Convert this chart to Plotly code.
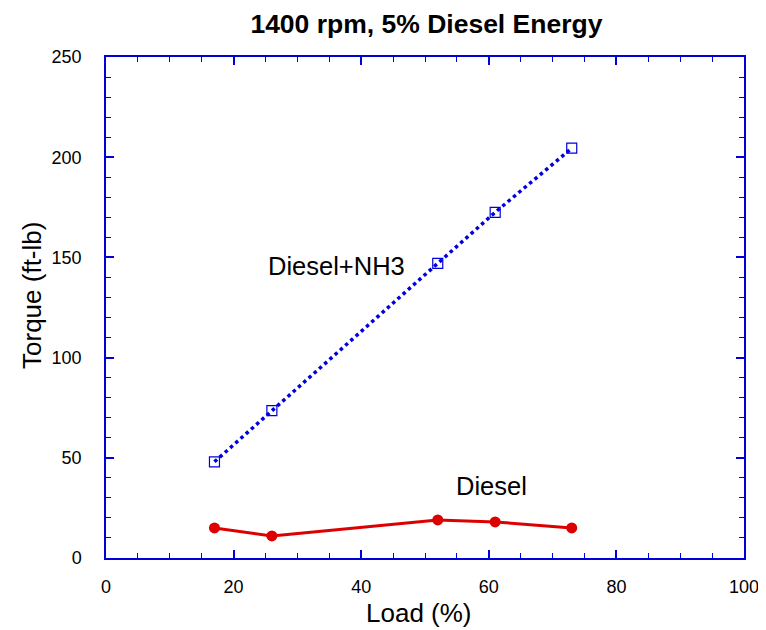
import plotly.graph_objects as go

load = [17, 26, 52, 61, 73]
torque_nh3 = [48, 73.5, 147, 172.5, 204.5]
torque_diesel = [15, 11, 19, 18, 15]

blue = "#0000dd"
red = "#dd0000"
FONT = "Liberation Sans, Arial, Helvetica"

fig = go.Figure()
fig.add_trace(go.Scatter(x=load, y=torque_nh3, mode="lines+markers",
                         line=dict(color=blue, width=3.5, dash="dot"),
                         marker=dict(symbol="square-open", size=10, color=blue, line=dict(width=1.2, color=blue)),
                         name="Diesel+NH3"))
fig.add_trace(go.Scatter(x=load, y=torque_diesel, mode="lines+markers",
                         line=dict(color=red, width=3),
                         marker=dict(symbol="circle", size=11, color=red),
                         name="Diesel"))

fig.add_annotation(x=36.05, y=145.5, text="Diesel+NH3", showarrow=False,
                   font=dict(size=25.5, color="black", family=FONT))
fig.add_annotation(x=60.5, y=36, text="Diesel", showarrow=False,
                   font=dict(size=25.5, color="black", family=FONT))

# axis titles
fig.add_annotation(xref="paper", yref="paper", x=0.4906, y=0, yshift=-55, xanchor="center", yanchor="middle",
                   text="Load (%)", showarrow=False, font=dict(size=26, color="black", family=FONT))
fig.add_annotation(xref="paper", yref="paper", x=0, y=0.523, xshift=-74, xanchor="center", yanchor="middle",
                   text="Torque (ft-lb)", textangle=-90, showarrow=False,
                   font=dict(size=26, color="black", family=FONT))

axis_common = dict(showline=True, linecolor=blue, linewidth=1.5, mirror="allticks",
                   ticks="inside", ticklen=8, tickcolor=blue, tickwidth=1.5,
                   showgrid=False, zeroline=False, automargin=False,
                   tickfont=dict(size=18, color="black", family=FONT))

fig.update_xaxes(range=[0, 100], dtick=20, tick0=0, ticklabelstandoff=12,
                 ticklabeloverflow="allow",
                 minor=dict(dtick=5, ticks="inside", ticklen=5, tickcolor=blue, tickwidth=1.2),
                 **axis_common)
fig.update_yaxes(range=[0, 250], dtick=50, tick0=0, ticklabelstandoff=19,
                 minor=dict(dtick=10, ticks="inside", ticklen=5, tickcolor=blue, tickwidth=1.2),
                 **axis_common)

fig.update_layout(
    width=758, height=622,
    margin=dict(l=98, r=22, t=49, b=72),
    plot_bgcolor="white", paper_bgcolor="white",
    showlegend=False,
    title=dict(text="<b>1400 rpm, 5% Diesel Energy</b>", x=0.552, xanchor="center", y=0.974, yanchor="middle",
               font=dict(size=26.5, color="black", family=FONT)),
)

fig.write_html("out.html")
